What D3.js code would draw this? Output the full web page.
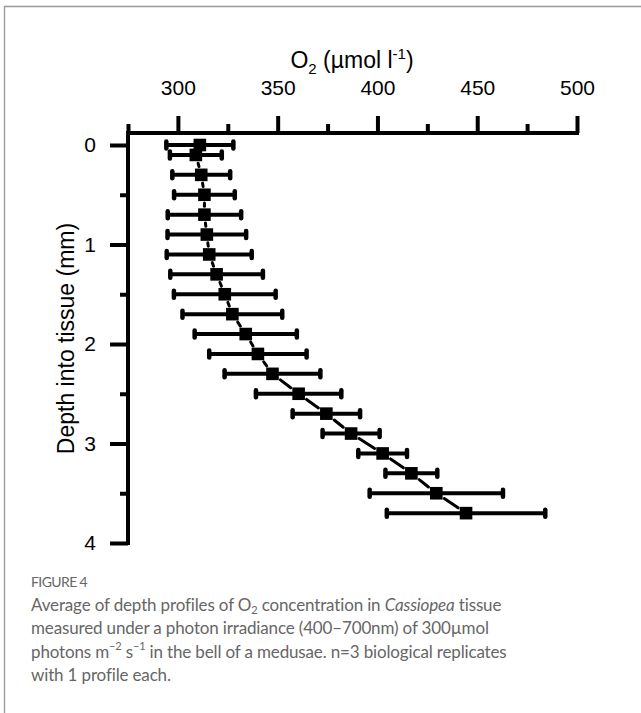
<!DOCTYPE html>
<html>
<head>
<meta charset="utf-8">
<script src="https://cdn.jsdelivr.net/npm/d3@7"></script>
<style>
  body { margin: 0; background: #fff; }
  .tick text { font-family: 'Liberation Sans', Arial, sans-serif; }
</style>
</head>
<body>
<script>
// depth profile data
const depths = [0, 0.1, 0.3, 0.5, 0.7, 0.9, 1.1, 1.3, 1.5, 1.7, 1.9, 2.1, 2.3, 2.5, 2.7, 2.9, 3.1, 3.3, 3.5, 3.7];
const o2Mean = [311, 309, 311.7, 313.3, 313.3, 314.5, 315.7, 319.4, 323.5, 327.3, 334, 340.1, 347.4, 360.5, 374.4, 386.8, 402.6, 417, 429.5, 444.4];
const o2Sd = [16.8, 13, 14.5, 15.2, 18.4, 19.7, 21.3, 23.2, 25.5, 25, 25.6, 24.4, 24, 21.4, 16.9, 14.3, 12.2, 13, 33.4, 39.7];

const xMajor = [300, 350, 400, 450, 500];
const xMinor = [275, 325, 375, 425, 475];
const yMajor = [0, 1, 2, 3, 4];
const yMinor = [0.5, 1.5, 2.5, 3.5];

const w = 641, h = 713;
const data = depths.map((d, i) => ({depth: d, mean: o2Mean[i], sd: o2Sd[i]}));

const svg = d3.select('body').append('svg').attr('width', w).attr('height', h);
svg.append('rect').attr('width', w).attr('height', h).attr('fill', '#fff');

// frame lines on the left and top
svg.append('path').attr('d', 'M4.5,713 V6.5 H641').attr('fill', 'none')
  .attr('stroke', '#999').attr('stroke-width', 1.3);

const axisY = 133;
const x = d3.scaleLinear().domain([275, 500]).range([128, 577]);
const y = d3.scaleLinear().domain([0, 4]).range([145, 543]);

// major + minor ticks, x on top
const gx = svg.append('g').attr('transform', `translate(0,${axisY})`);
gx.call(d3.axisTop(x).tickValues(xMajor).tickSize(17).tickPadding(21).tickSizeOuter(0));
const gx2 = svg.append('g').attr('transform', `translate(0,${axisY})`);
gx2.call(d3.axisTop(x).tickValues(xMinor).tickSize(9).tickFormat('').tickSizeOuter(0));

const gy = svg.append('g').attr('transform', 'translate(128,0)');
gy.call(d3.axisLeft(y).tickValues(yMajor).tickFormat(d3.format('d')).tickSize(18).tickPadding(14).tickSizeOuter(0));
const gy2 = svg.append('g').attr('transform', 'translate(128,0)');
gy2.call(d3.axisLeft(y).tickValues(yMinor).tickSize(8).tickFormat('').tickSizeOuter(0));

svg.selectAll('.domain').remove();
svg.selectAll('.tick line').attr('stroke', '#000').attr('stroke-width', 4);
svg.selectAll('.tick text').attr('font-size', 21).attr('fill', '#000');

// the axis lines themselves
svg.append('path')
  .attr('d', `M${x(500)},${axisY} H${x(275)} V${y(4)}`)
  .attr('fill', 'none').attr('stroke', '#000').attr('stroke-width', 4)
  .attr('stroke-linecap', 'square');

// axis titles
const xt = svg.append('text').attr('x', 352).attr('y', 68).attr('text-anchor', 'middle')
  .style('font-family', "'Liberation Sans', Arial, sans-serif").style('font-size', '23px');
xt.append('tspan').text('O');
xt.append('tspan').attr('font-size', 15).attr('dy', 6).text('2');
xt.append('tspan').attr('dy', -6).text(' (µmol l');
xt.append('tspan').attr('font-size', 15).attr('dy', -9).text('-1');
xt.append('tspan').attr('dy', 9).text(')');

svg.append('text').attr('transform', 'translate(73.5,338.5) rotate(-90)')
  .attr('text-anchor', 'middle')
  .style('font-family', "'Liberation Sans', Arial, sans-serif").style('font-size', '23px')
  .text('Depth into tissue (mm)');

// connecting line, broken a little around each symbol
const half = 6.3, gap = 2;
for (let i = 0; i < data.length - 1; i++) {
  const x0 = x(data[i].mean), y0 = y(data[i].depth);
  const x1 = x(data[i + 1].mean), y1 = y(data[i + 1].depth);
  const len = Math.hypot(x1 - x0, y1 - y0);
  const ux = (x1 - x0) / len, uy = (y1 - y0) / len;
  const t = half / Math.max(Math.abs(ux), Math.abs(uy)) + gap;
  if (len - 2 * t <= 0) continue;
  svg.append('line')
    .attr('x1', x0 + ux * t).attr('y1', y0 + uy * t)
    .attr('x2', x1 - ux * t).attr('y2', y1 - uy * t)
    .attr('stroke', '#000').attr('stroke-width', 3).attr('stroke-linecap', 'round');
}

// error bars
const eb = svg.append('g');
eb.selectAll('.bar').data(data).enter().append('line')
  .attr('x1', d => x(d.mean - d.sd)).attr('x2', d => x(d.mean + d.sd))
  .attr('y1', d => y(d.depth)).attr('y2', d => y(d.depth))
  .attr('stroke', '#000').attr('stroke-width', 4);
['lo', 'hi'].forEach(side => {
  eb.selectAll('.cap-' + side).data(data).enter().append('line')
    .attr('x1', d => x(side == 'lo' ? d.mean - d.sd : d.mean + d.sd))
    .attr('x2', d => x(side == 'lo' ? d.mean - d.sd : d.mean + d.sd))
    .attr('y1', d => y(d.depth) - 3.5).attr('y2', d => y(d.depth) + 3.5)
    .attr('stroke', '#000').attr('stroke-width', 4.5).attr('stroke-linecap', 'round');
});

// square markers
svg.selectAll('.dot').data(data).enter().append('rect')
  .attr('x', d => x(d.mean) - half).attr('y', d => y(d.depth) - half)
  .attr('width', half * 2).attr('height', half * 2).attr('fill', '#000');

// caption
const cap = svg.append('g').style('font-family', 'Lato, sans-serif').attr('fill', '#666');
cap.append('text').attr('x', 31).attr('y', 587).style('font-size', '14px')
  .style('letter-spacing', '-0.6px').text('FIGURE 4');
const lines = [
  [['Average of depth profiles of O'], ['2', 'sub'], [' concentration in '], ['Cassiopea', 'it'], [' tissue']],
  [['measured under a photon irradiance (400–700nm) of 300µmol']],
  [['photons m'], ['−2', 'sup'], [' s'], ['−1', 'sup'], [' in the bell of a medusae. n=3 biological replicates']],
  [['with 1 profile each.']]
];
lines.forEach((parts, i) => {
  const t = cap.append('text').attr('x', 31).attr('y', 611 + i * 23.3).style('font-size', '17px')
    .style('letter-spacing', '-0.15px');
  parts.forEach(p => {
    const s = t.append('tspan').text(p[0]);
    if (p[1] == 'sub') s.attr('font-size', 11).attr('baseline-shift', '-25%');
    if (p[1] == 'sup') s.attr('font-size', 11).attr('baseline-shift', '70%');
    if (p[1] == 'it') s.attr('font-style', 'italic');
  });
});
</script>
</body>
</html>
